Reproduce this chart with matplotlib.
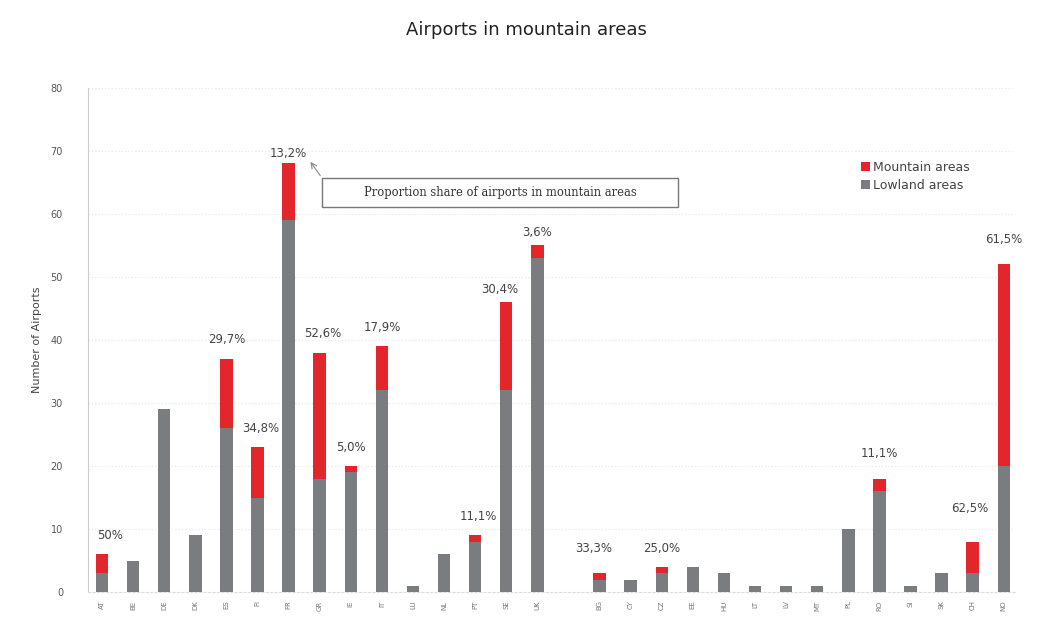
import matplotlib
matplotlib.use("Agg")
import matplotlib.pyplot as plt
from matplotlib.patches import Rectangle
import numpy as np

countries = ["AT", "BE", "DE", "DK", "ES", "FI", "FR", "GR", "IE", "IT", "LU", "NL", "PT", "SE", "UK",
             "BG", "CY", "CZ", "EE", "HU", "LT", "LV", "MT", "PL", "RO", "SI", "SK", "CH", "NO"]
lowland = [3, 5, 29, 9, 26, 15, 59, 18, 19, 32, 1, 6, 8, 32, 53,
           2, 2, 3, 4, 3, 1, 1, 1, 10, 16, 1, 3, 3, 20]
mountain = [3, 0, 0, 0, 11, 8, 9, 20, 1, 7, 0, 0, 1, 14, 2,
            1, 0, 1, 0, 0, 0, 0, 0, 0, 2, 0, 0, 5, 32]
share_labels = ["50%", "", "", "", "29,7%", "34,8%", "13,2%", "52,6%", "5,0%", "17,9%", "", "", "11,1%", "30,4%", "3,6%",
                "33,3%", "", "25,0%", "", "", "", "", "", "", "11,1%", "", "", "62,5%", "61,5%"]

# positions: group 1 at 0..14, a gap slot, group 2 at 16..29
pos = np.array(list(range(15)) + list(range(16, 30)), dtype=float)

fig = plt.figure(figsize=(10.53, 6.22), dpi=100)
ax = fig.add_axes([0.0836, 0.048, 0.880, 0.811])

red = "#e3262b"
grey = "#7b7c80"
w = 0.4
ax.bar(pos, lowland, width=w, color=grey, label="Lowland areas", zorder=3)
ax.bar(pos, mountain, width=w, bottom=lowland, color=red, label="Mountain areas", zorder=3)

label_dx = {0: 0.25, 5: 0.1, 7: 0.1, 13: -0.2, 15: -0.2, 27: -0.1, 12: 0.1}
label_dy = {6: 1.5, 13: 2.0, 14: 2.0, 27: 5.2, 15: 4.0, 24: 4.0, 28: 4.0}
for i, (p, lo, mo, lab) in enumerate(zip(pos, lowland, mountain, share_labels)):
    if lab:
        ax.text(p + label_dx.get(i, 0.0), lo + mo + label_dy.get(i, 3.0), lab,
                ha="center", va="center", fontsize=8.5, color="#444444", zorder=4)

ax.set_xlim(-0.45, 29.35)
ax.set_ylim(0, 80)
ax.set_yticks(range(0, 81, 10))
ax.tick_params(axis="y", labelsize=7, colors="#555555", length=0, pad=18)
ax.set_xticks(pos)
ax.set_xticklabels(countries, rotation=90, fontsize=5, color="#777777")
ax.tick_params(axis="x", length=0, pad=6)
ax.set_ylabel("Number of Airports", fontsize=8, color="#444444", labelpad=6)
ax.grid(axis="y", color="#e6e6e6", linestyle=(0, (1, 2)), linewidth=0.8, zorder=0)
for s in ["top", "right"]:
    ax.spines[s].set_visible(False)
ax.spines["left"].set_color("#cccccc")
ax.spines["bottom"].set_color("#dddddd")
ax.spines["bottom"].set_linestyle((0, (2, 2)))

fig.text(0.5, 0.952, "Airports in mountain areas", ha="center", va="center", fontsize=13, color="#222222")

# annotation box
ax.add_patch(Rectangle((7.07, 61.1), 11.45, 4.6, fc="white", ec="#777777", lw=1.0, zorder=5))
ax.text(12.8, 63.4, "Proportion share of airports in mountain areas", ha="center", va="center",
        fontsize=8.3, family="DejaVu Serif", color="#333333", zorder=6)
ax.annotate("", xy=(6.65, 68.6), xytext=(7.07, 65.7),
            arrowprops=dict(arrowstyle="->", color="#888888", lw=0.8))

h, l = ax.get_legend_handles_labels()
leg = ax.legend(h[::-1], l[::-1], loc="upper left", bbox_to_anchor=(0.822, 0.877),
                frameon=False, fontsize=9, handlelength=0.7, handleheight=0.7,
                handletextpad=0.3, labelspacing=0.4)
for t in leg.get_texts():
    t.set_color("#444444")

fig.savefig("out.png", dpi=100, facecolor="white")
